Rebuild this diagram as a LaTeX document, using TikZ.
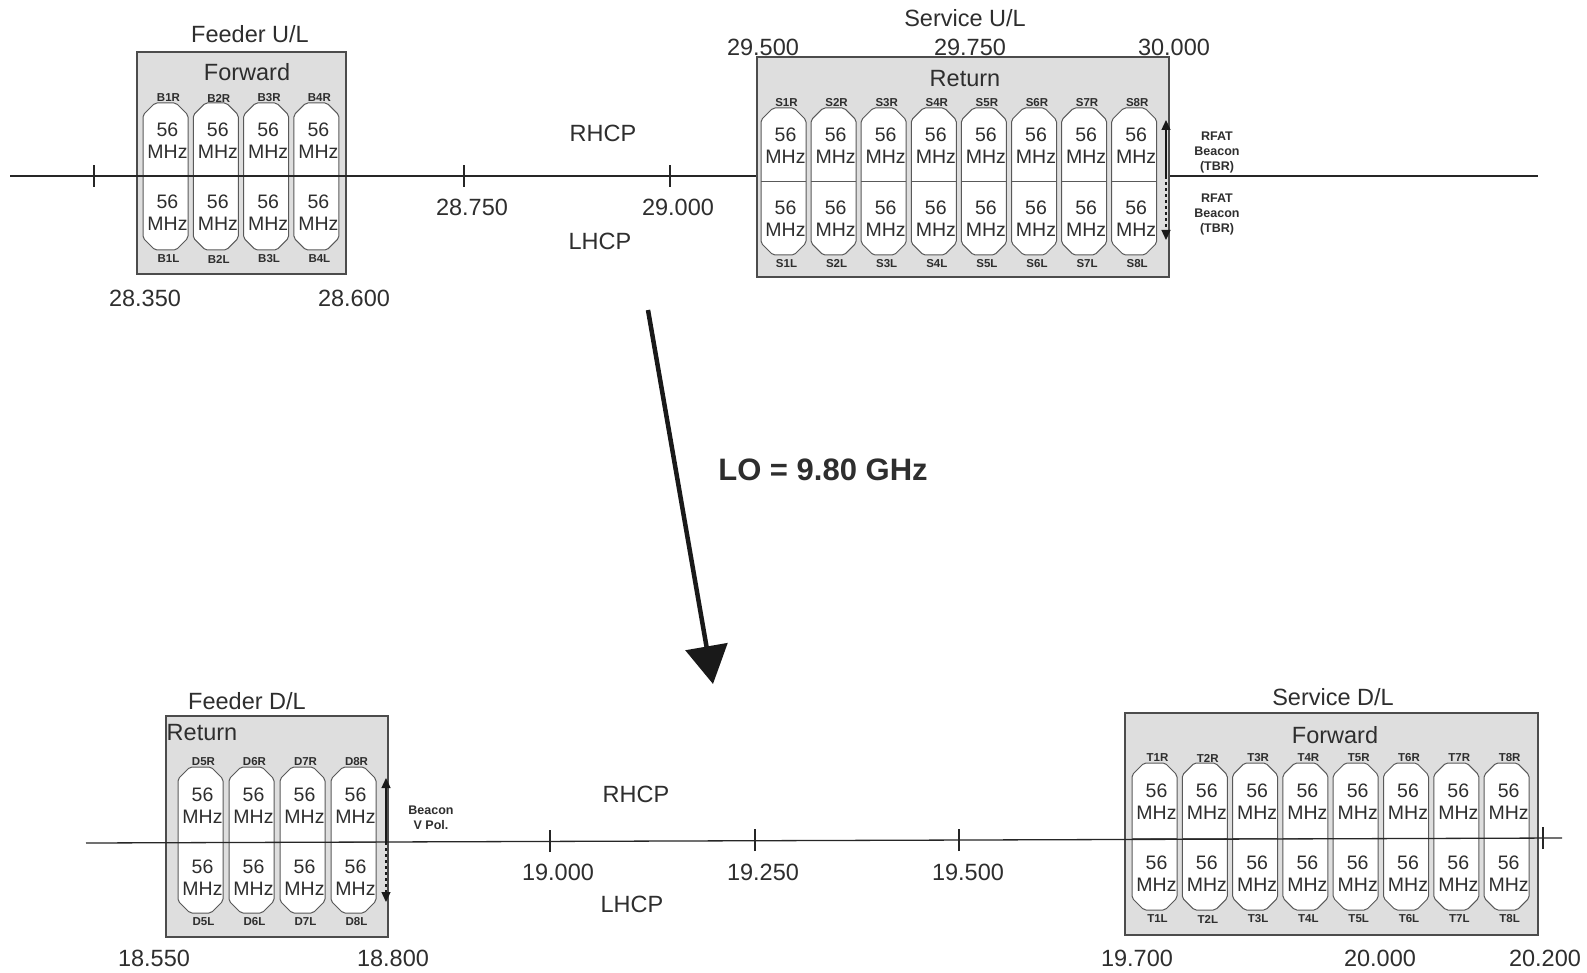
\documentclass[tikz,border=0pt]{standalone}
\usepackage{fontspec}
\setmainfont{Liberation Sans}
\usetikzlibrary{arrows.meta}
\newcommand\FtBig{\fontsize{23.5}{28}\selectfont}
\newcommand\FtOv{\fontsize{19.5}{22}\selectfont}
\newcommand\FtTag{\fontsize{11.5}{13}\selectfont\bfseries}
\newcommand\FtBea{\fontsize{12.5}{15}\selectfont\bfseries}
\newcommand\FtLO{\fontsize{31}{36}\selectfont\bfseries}
\tikzset{
  txt/.style={text=black!82, inner sep=0pt, font=\FtBig},
  band/.style={fill=black!13, draw=black!70, line width=1.2pt, inner sep=0pt},
  chan/.style={fill=white, draw=black!65, line width=1pt, rounded corners=2pt},
  divline/.style={draw=black!65, line width=1pt},
  ovtxt/.style={inner sep=0pt, align=center, font=\FtOv, text=black!82},
  tag/.style={inner sep=0pt, font=\FtTag, text=black!82},
  beatxt/.style={inner sep=0pt, align=center, font=\FtBea, text=black!82},
  axisline/.style={line width=1.3pt, draw=black!85},
  tickline/.style={line width=1.2pt, draw=black!85},
  beaarrow/.style={line width=1.3pt, draw=black!90, -{Triangle[length=10pt,width=9pt]}},
  loarrow/.style={line width=4.5pt, draw=black!90, -{Triangle[length=38pt,width=42pt]}},
}
% #1 id, #2 letter, #3 x0, #4 pitch, #5 count, #6 top, #7 bottom, #8 mid, #9 first index
\newcommand\ChanGroup[9]{%
  \foreach \i in {1,...,#5}{%
    \pgfmathsetmacro\xl{#3+(\i-1)*#4}%
    \pgfmathsetmacro\xr{\xl+45}%
    \pgfmathsetmacro\xc{\xl+22.5}%
    \pgfmathtruncatemacro\k{\i+#9-1}%
    \draw[chan] (\xl+12,#6) -- (\xr-12,#6) -- (\xr,#6+12) -- (\xr,#7-12) -- (\xr-12,#7) -- (\xl+12,#7) -- (\xl,#7-12) -- (\xl,#6+12) -- cycle;
    \draw[divline] (\xl,#8) -- (\xr,#8);
    \node[ovtxt] (#1u\i) at (\xc+2,{(#6+#8)/2+1}) {56\\MHz};
    \node[ovtxt] (#1l\i) at (\xc+2,{(#8+#7)/2}) {56\\MHz};
    \node[tag] (#1r\i) at (\xc+3,#6-5) {#2\k R};
    \node[tag] (#1b\i) at (\xc+3,#7+9) {#2\k L};
  }%
}
\begin{document}
\begin{tikzpicture}[x=1pt,y=-1pt]
\useasboundingbox[fill=white] (0,0) rectangle (1587,973);

% ---------- top: uplink ----------
\coordinate (taxL) at (10,176);
\coordinate (taxR) at (1538,176);
\node[band, minimum width=209pt, minimum height=222pt] (fuBox) at (241.5,163) {};
\ChanGroup{fu}{B}{143}{50.3}{4}{103}{250}{176}{1}
\node[band, minimum width=412pt, minimum height=220pt] (suBox) at (963,167) {};
\ChanGroup{su}{S}{761}{50.1}{8}{108}{255}{182}{1}
\draw[axisline] (taxL) -- (suBox.west |- taxL);
\draw[axisline] (suBox.east |- taxR) -- (taxR);

\coordinate (tk1) at (94,176);
\coordinate (tk2) at (464,176);
\coordinate (tk3) at (670,176);
\foreach \t in {tk1,tk2,tk3}{\draw[tickline] ([yshift=-11pt]\t) -- ([yshift=11pt]\t);}

\node[txt] (fuTitle) at (250,34) {Feeder U/L};
\node[txt] (fuDir) at (247,72) {Forward};
\node[txt] (suTitle) at (965,18) {Service U/L};
\node[txt] (suDir) at (965,79) {Return};
\node[txt] (f29500) at (763,47) {29.500};
\node[txt] (f29750) at (970,47) {29.750};
\node[txt] (f30000) at (1174,47) {30.000};
\node[txt] (tRHCP) at (603,133) {RHCP};
\node[txt] (tLHCP) at (600,241) {LHCP};
\node[txt] (f28750) at (472,207) {28.750};
\node[txt] (f29000) at (678,207) {29.000};
\node[txt] (f28350) at (145,298) {28.350};
\node[txt] (f28600) at (354,298) {28.600};

\coordinate (tbMid) at (1166,176);
\coordinate (tbTop) at (1166,120);
\coordinate (tbBot) at (1166,240);
\draw[beaarrow] (tbMid) -- (tbTop);
\draw[beaarrow, dashed] (tbMid) -- (tbBot);
\node[beatxt] (tbU) at (1217,152) {RFAT\\Beacon\\(TBR)};
\node[beatxt] (tbL) at (1217,214) {RFAT\\Beacon\\(TBR)};

% ---------- LO arrow ----------
\coordinate (loA) at (648,310);
\coordinate (loB) at (713,684);
\draw[loarrow] (loA) -- (loB);
\node[txt, font=\FtLO] (loLabel) at (823,470) {LO = 9.80 GHz};

% ---------- bottom: downlink ----------
\node[band, minimum width=222pt, minimum height=221pt] (fdBox) at (277,826.5) {};
\ChanGroup{fd}{D}{178}{51}{4}{767}{913}{842}{5}
\node[band, minimum width=413pt, minimum height=222pt] (sdBox) at (1331.5,824) {};
\ChanGroup{sd}{T}{1132}{50.3}{8}{763}{910}{838}{1}

\coordinate (baxL) at (86,843);
\coordinate (baxR) at (1562,838);
\draw[axisline] (baxL) -- (baxR);
\coordinate (bk1) at (550,841);
\coordinate (bk2) at (755,840);
\coordinate (bk3) at (959,840);
\coordinate (bk4) at (1543,838);
\foreach \t in {bk1,bk2,bk3,bk4}{\draw[tickline] ([yshift=-11pt]\t) -- ([yshift=11pt]\t);}

\node[txt] (fdTitle) at (247,701) {Feeder D/L};
\node[txt] (fdDir) at (202,733) {Return};
\node[txt] (sdTitle) at (1333,697) {Service D/L};
\node[txt] (sdDir) at (1335,735) {Forward};
\node[txt] (bRHCP) at (636,794) {RHCP};
\node[txt] (bLHCP) at (632,904) {LHCP};
\node[txt] (f19000) at (558,872) {19.000};
\node[txt] (f19250) at (763,872) {19.250};
\node[txt] (f19500) at (968,872) {19.500};
\node[txt] (f18550) at (154,958) {18.550};
\node[txt] (f18800) at (393,958) {18.800};
\node[txt] (f19700) at (1137,958) {19.700};
\node[txt] (f20000) at (1380,958) {20.000};
\node[txt] (f20200) at (1545,958) {20.200};

\coordinate (bbMid) at (386,842);
\coordinate (bbTop) at (386,778);
\coordinate (bbBot) at (386,902);
\draw[beaarrow] (bbMid) -- (bbTop);
\draw[beaarrow, dashed] (bbMid) -- (bbBot);
\node[beatxt] (bbLab) at (431,818) {Beacon\\V Pol.};
\end{tikzpicture}
\end{document}
